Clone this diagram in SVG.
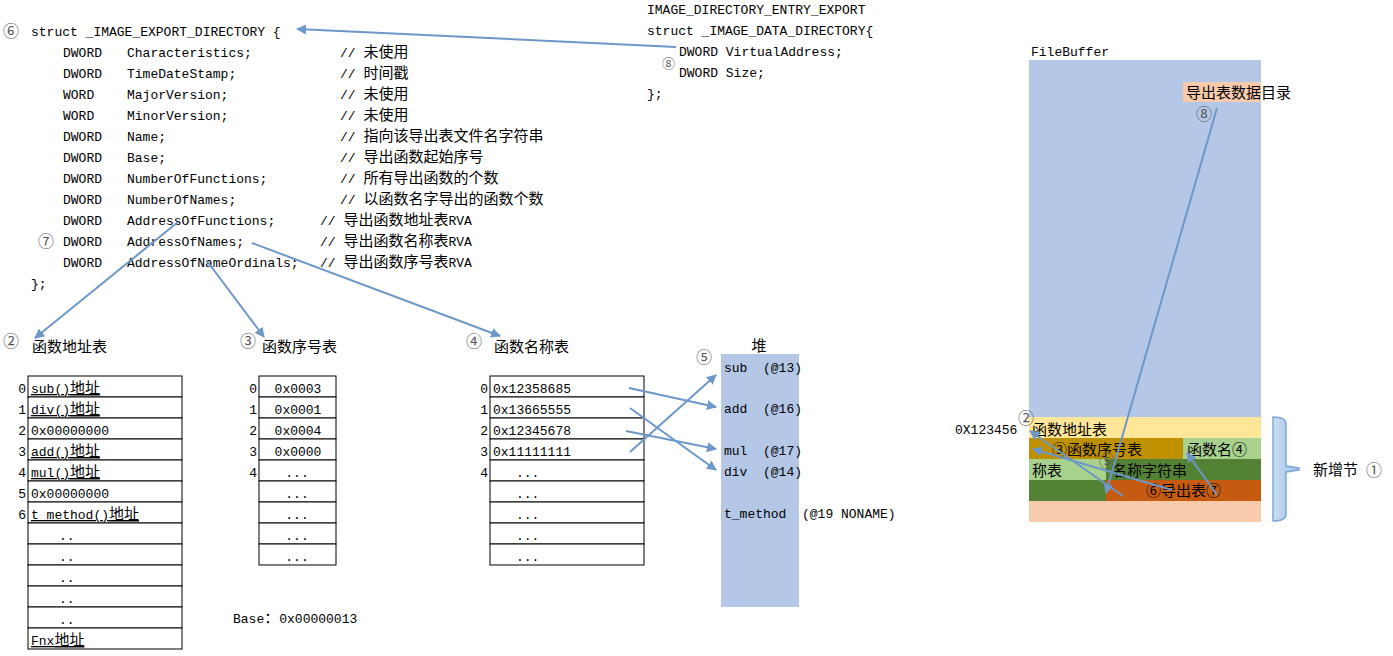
<svg xmlns="http://www.w3.org/2000/svg" width="1393" height="656" viewBox="0 0 1393 656">
<defs>
<style>
.code{font-family:"Liberation Mono","Noto Sans CJK SC",monospace;font-size:13px;fill:#000}
.cjk{font-family:"Noto Sans CJK SC",sans-serif;font-size:15px}
.lbl{font-family:"Noto Sans CJK SC",sans-serif;font-size:15px;fill:#000}
.num{font-family:"Noto Sans CJK SC",sans-serif;font-size:16px;fill:#555}
.cell{fill:#fff;stroke:#000;stroke-width:1}
.conn{stroke:#6E97C9;stroke-width:2;fill:none;marker-end:url(#ah)}
.ul{text-decoration:underline}
.mid{text-anchor:middle}
.end{text-anchor:end}
</style>
<marker id="ah" viewBox="0 0 10 10" refX="9" refY="5" markerWidth="10" markerHeight="10" markerUnits="userSpaceOnUse" orient="auto"><path d="M0,0 L10,5 L0,10 z" fill="#6E97C9"/></marker>
<linearGradient id="brg" x1="0" y1="0" x2="1" y2="0"><stop offset="0" stop-color="#C9DEF3"/><stop offset="1" stop-color="#9DC0E4"/></linearGradient>
</defs>
<rect width="1393" height="656" fill="#fff"/>

<g id="struct-export" class="code">
<text class="num" x="3" y="37">⑥</text>
<text x="31" y="36">struct _IMAGE_EXPORT_DIRECTORY {</text>
<text x="63" y="57">DWORD</text><text x="127" y="57">Characteristics;</text><text x="340" y="57">// <tspan class="cjk">未使用</tspan></text>
<text x="63" y="78">DWORD</text><text x="127" y="78">TimeDateStamp;</text><text x="340" y="78">// <tspan class="cjk">时间戳</tspan></text>
<text x="63" y="99">WORD</text><text x="127" y="99">MajorVersion;</text><text x="340" y="99">// <tspan class="cjk">未使用</tspan></text>
<text x="63" y="120">WORD</text><text x="127" y="120">MinorVersion;</text><text x="340" y="120">// <tspan class="cjk">未使用</tspan></text>
<text x="63" y="141">DWORD</text><text x="127" y="141">Name;</text><text x="340" y="141">// <tspan class="cjk">指向该导出表文件名字符串</tspan></text>
<text x="63" y="162">DWORD</text><text x="127" y="162">Base;</text><text x="340" y="162">// <tspan class="cjk">导出函数起始序号</tspan></text>
<text x="63" y="183">DWORD</text><text x="127" y="183">NumberOfFunctions;</text><text x="340" y="183">// <tspan class="cjk">所有导出函数的个数</tspan></text>
<text x="63" y="204">DWORD</text><text x="127" y="204">NumberOfNames;</text><text x="340" y="204">// <tspan class="cjk">以函数名字导出的函数个数</tspan></text>
<text x="63" y="225">DWORD</text><text x="127" y="225">AddressOfFunctions;</text><text x="320" y="225">// <tspan class="cjk">导出函数地址表</tspan>RVA</text>
<text class="num" x="38" y="247">⑦</text>
<text x="63" y="246">DWORD</text><text x="127" y="246">AddressOfNames;</text><text x="320" y="246">// <tspan class="cjk">导出函数名称表</tspan>RVA</text>
<text x="63" y="267">DWORD</text><text x="127" y="267">AddressOfNameOrdinals;</text><text x="320" y="267">// <tspan class="cjk">导出函数序号表</tspan>RVA</text>
<text x="31" y="288">};</text>
</g>

<g id="struct-datadir" class="code">
<text x="647" y="14">IMAGE_DIRECTORY_ENTRY_EXPORT</text>
<text x="647" y="35">struct _IMAGE_DATA_DIRECTORY{</text>
<text x="679" y="56">DWORD VirtualAddress;</text>
<text x="679" y="77">DWORD Size;</text>
<text x="647" y="98">};</text>
<text class="num" x="662" y="68" style="font-size:13px">⑧</text>
</g>

<g id="table-functions">
<text class="num" x="3" y="347">②</text>
<text class="lbl" x="32" y="352">函数地址表</text>
<rect class="cell" x="28" y="376" width="154" height="21"/>
<rect class="cell" x="28" y="397" width="154" height="21"/>
<rect class="cell" x="28" y="418" width="154" height="21"/>
<rect class="cell" x="28" y="439" width="154" height="21"/>
<rect class="cell" x="28" y="460" width="154" height="21"/>
<rect class="cell" x="28" y="481" width="154" height="21"/>
<rect class="cell" x="28" y="502" width="154" height="21"/>
<rect class="cell" x="28" y="523" width="154" height="21"/>
<rect class="cell" x="28" y="544" width="154" height="21"/>
<rect class="cell" x="28" y="565" width="154" height="21"/>
<rect class="cell" x="28" y="586" width="154" height="21"/>
<rect class="cell" x="28" y="607" width="154" height="21"/>
<rect class="cell" x="28" y="628" width="154" height="21"/>
<g class="code">
<text class="end" x="26" y="393">0</text>
<text class="end" x="26" y="414">1</text>
<text class="end" x="26" y="435">2</text>
<text class="end" x="26" y="456">3</text>
<text class="end" x="26" y="477">4</text>
<text class="end" x="26" y="498">5</text>
<text class="end" x="26" y="519">6</text>
<text class="ul" x="31" y="393">sub()<tspan class="cjk">地址</tspan></text>
<text class="ul" x="31" y="414">div()<tspan class="cjk">地址</tspan></text>
<text x="31" y="435">0x00000000</text>
<text class="ul" x="31" y="456">add()<tspan class="cjk">地址</tspan></text>
<text class="ul" x="31" y="477">mul()<tspan class="cjk">地址</tspan></text>
<text x="31" y="498">0x00000000</text>
<text class="ul" x="31" y="519">t_method()<tspan class="cjk">地址</tspan></text>
<text x="59" y="540">..</text>
<text x="59" y="561">..</text>
<text x="59" y="582">..</text>
<text x="59" y="603">..</text>
<text x="59" y="624">..</text>
<text class="ul" x="31" y="645">Fnx<tspan class="cjk">地址</tspan></text>
</g>
</g>

<g id="table-ordinals">
<text class="num" x="240" y="347">③</text>
<text class="lbl" x="262" y="352">函数序号表</text>
<rect class="cell" x="259" y="376" width="77" height="21"/>
<rect class="cell" x="259" y="397" width="77" height="21"/>
<rect class="cell" x="259" y="418" width="77" height="21"/>
<rect class="cell" x="259" y="439" width="77" height="21"/>
<rect class="cell" x="259" y="460" width="77" height="21"/>
<rect class="cell" x="259" y="481" width="77" height="21"/>
<rect class="cell" x="259" y="502" width="77" height="21"/>
<rect class="cell" x="259" y="523" width="77" height="21"/>
<rect class="cell" x="259" y="544" width="77" height="21"/>
<g class="code">
<text class="end" x="257" y="393">0</text>
<text class="end" x="257" y="414">1</text>
<text class="end" x="257" y="435">2</text>
<text class="end" x="257" y="456">3</text>
<text class="end" x="257" y="477">4</text>
<text class="mid" x="298" y="393">0x0003</text>
<text class="mid" x="298" y="414">0x0001</text>
<text class="mid" x="298" y="435">0x0004</text>
<text class="mid" x="298" y="456">0x0000</text>
<text class="mid" x="297" y="477">...</text>
<text class="mid" x="297" y="498">...</text>
<text class="mid" x="297" y="519">...</text>
<text class="mid" x="297" y="540">...</text>
<text class="mid" x="297" y="561">...</text>
<text x="233" y="623">Base<tspan class="cjk">：</tspan>0x00000013</text>
</g>
</g>

<g id="table-names">
<text class="num" x="466" y="347">④</text>
<text class="lbl" x="494" y="352">函数名称表</text>
<rect class="cell" x="490" y="376" width="154" height="21"/>
<rect class="cell" x="490" y="397" width="154" height="21"/>
<rect class="cell" x="490" y="418" width="154" height="21"/>
<rect class="cell" x="490" y="439" width="154" height="21"/>
<rect class="cell" x="490" y="460" width="154" height="21"/>
<rect class="cell" x="490" y="481" width="154" height="21"/>
<rect class="cell" x="490" y="502" width="154" height="21"/>
<rect class="cell" x="490" y="523" width="154" height="21"/>
<rect class="cell" x="490" y="544" width="154" height="21"/>
<g class="code">
<text class="end" x="488" y="393">0</text>
<text class="end" x="488" y="414">1</text>
<text class="end" x="488" y="435">2</text>
<text class="end" x="488" y="456">3</text>
<text class="end" x="488" y="477">4</text>
<text x="493" y="393">0x12358685</text>
<text x="493" y="414">0x13665555</text>
<text x="493" y="435">0x12345678</text>
<text x="493" y="456">0x11111111</text>
<text x="516" y="477">...</text>
<text x="516" y="498">...</text>
<text x="516" y="519">...</text>
<text x="516" y="540">...</text>
<text x="516" y="561">...</text>
</g>
</g>

<g id="heap">
<text class="lbl" x="759" y="351" text-anchor="middle">堆</text>
<text class="num" x="696" y="363">⑤</text>
<rect x="721" y="354" width="78" height="253" fill="#B4C7E7"/>
<g class="code">
<text x="724" y="372">sub&#160; (@13)</text>
<text x="724" y="413">add&#160; (@16)</text>
<text x="724" y="455">mul&#160; (@17)</text>
<text x="724" y="476">div&#160; (@14)</text>
<text x="724" y="518">t_method&#160; (@19 NONAME)</text>
</g>
</g>

<g id="filebuffer">
<text class="code" x="1031" y="56">FileBuffer</text>
<rect x="1029" y="60" width="232" height="357" fill="#B4C7E7"/>
<rect x="1183" y="82" width="78" height="20" fill="#F8CBAD"/>
<text class="lbl" x="1186" y="98">导出表数据目录</text>
<text class="num" x="1196" y="120">⑧</text>
</g>

<g id="new-section">
<rect x="1029" y="417" width="232" height="21" fill="#FFE699"/>
<rect x="1029" y="438" width="154" height="21" fill="#BF9000"/>
<rect x="1183" y="438" width="78" height="21" fill="#A9D18E"/>
<rect x="1029" y="459" width="77" height="21" fill="#A9D18E"/>
<rect x="1106" y="459" width="155" height="21" fill="#548235"/>
<rect x="1029" y="480" width="77" height="21" fill="#548235"/>
<rect x="1106" y="480" width="155" height="21" fill="#C55A11"/>
<rect x="1029" y="501" width="232" height="21" fill="#F8CBAD"/>
<text class="code" x="955" y="434">0X123456</text>
<text class="num" x="1018" y="424">②</text>
<text class="lbl" x="1032" y="435">函数地址表</text>
<text class="lbl" x="1052" y="455">③函数序号表</text>
<text class="lbl" x="1187" y="455">函数名④</text>
<text class="lbl" x="1032" y="476">称表</text>
<text class="lbl" x="1112" y="476">名称字符串</text>
<text class="num" x="1099" y="467">⑤</text>
<text class="lbl" x="1146" y="496">⑥导出表⑦</text>
</g>

<g id="brace">
<path d="M1273,417 C1281,417 1286,419 1286,424 L1286,466 L1299,468 L1299,470 L1286,472 L1286,514 C1286,519 1281,521 1273,521 Z" fill="url(#brg)" stroke="#7FA8D6" stroke-width="1.5"/>
<text class="lbl" x="1313" y="475">新增节</text>
<text class="num" x="1366" y="476">①</text>
</g>

<g id="connectors">
<line class="conn" x1="676" y1="47" x2="297" y2="29"/>
<line class="conn" x1="178" y1="222" x2="35" y2="338"/>
<line class="conn" x1="207" y1="261" x2="264" y2="337"/>
<line class="conn" x1="252" y1="243" x2="500" y2="336"/>
<line class="conn" x1="629" y1="388" x2="716" y2="407"/>
<line class="conn" x1="630" y1="408" x2="716" y2="470"/>
<line class="conn" x1="626" y1="431" x2="716" y2="449"/>
<line class="conn" x1="630" y1="452" x2="716" y2="375"/>
<line class="conn" x1="1217" y1="108" x2="1106" y2="493"/>
<line class="conn" x1="1123" y1="496" x2="1030" y2="431"/>
<line class="conn" x1="1172" y1="490" x2="1033" y2="449"/>
<line class="conn" x1="1217" y1="495" x2="1187" y2="453"/>
</g>
</svg>
